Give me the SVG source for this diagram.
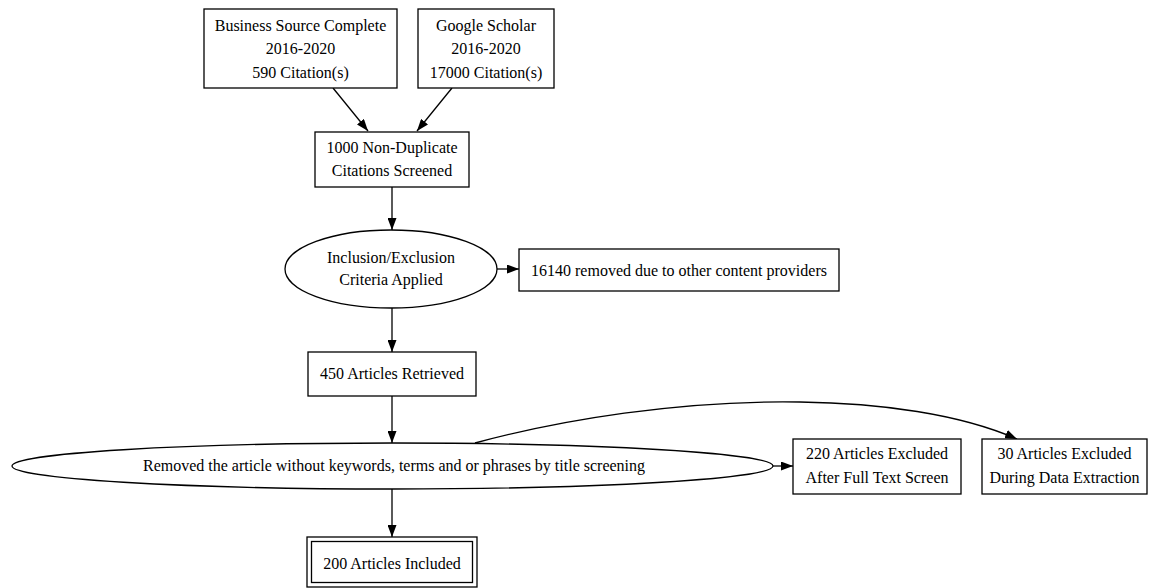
<svg xmlns="http://www.w3.org/2000/svg" width="1152" height="588" viewBox="0 0 1152 588">
<style>
.n{fill:#fff;stroke:#000;stroke-width:1.3}
.t{font-family:"Liberation Serif","Times New Roman",serif;font-size:16px;fill:#000;text-anchor:middle}
.e{fill:none;stroke:#000;stroke-width:1.3}
</style>
<defs>
<marker id="ah" viewBox="0 0 12 9" refX="12" refY="4.5" markerWidth="12" markerHeight="9" markerUnits="userSpaceOnUse" orient="auto">
<path d="M0,0 L12,4.5 L0,9 z" fill="#000"/>
</marker>
</defs>
<rect width="1152" height="588" fill="#fff"/>
<g id="connectors">
<path class="e" d="M333,88 L368,131" marker-end="url(#ah)"/>
<path class="e" d="M452,88 L417,131" marker-end="url(#ah)"/>
<path class="e" d="M392,187 L392,230" marker-end="url(#ah)"/>
<path class="e" d="M497,269 L519,269" marker-end="url(#ah)"/>
<path class="e" d="M392,308 L392,352" marker-end="url(#ah)"/>
<path class="e" d="M392,396 L392,443" marker-end="url(#ah)"/>
<path class="e" d="M773,466 L793,466" marker-end="url(#ah)"/>
<path class="e" d="M392,488 L392,537" marker-end="url(#ah)"/>
<path class="e" d="M475,443 C560,420 680,400 800,402 C880,403 960,414 1017,439" marker-end="url(#ah)"/>
</g>
<g id="bsc">
<rect class="n" x="204" y="9" width="193" height="79"/>
<text class="t" x="300.5" y="30.5">Business Source Complete</text>
<text class="t" x="300.5" y="54">2016-2020</text>
<text class="t" x="300.5" y="77.5">590 Citation(s)</text>
</g>
<g id="gs">
<rect class="n" x="418" y="9" width="136" height="79"/>
<text class="t" x="486" y="30.5">Google Scholar</text>
<text class="t" x="486" y="54">2016-2020</text>
<text class="t" x="486" y="77.5">17000 Citation(s)</text>
</g>
<g id="nondup">
<rect class="n" x="315" y="132" width="154" height="55"/>
<text class="t" x="392" y="152.5">1000 Non-Duplicate</text>
<text class="t" x="392" y="175.5">Citations Screened</text>
</g>
<g id="criteria">
<ellipse class="n" cx="391" cy="269" rx="106" ry="39"/>
<text class="t" x="391" y="262.5">Inclusion/Exclusion</text>
<text class="t" x="391" y="285">Criteria Applied</text>
</g>
<g id="removed16140">
<rect class="n" x="519" y="249" width="320" height="42"/>
<text class="t" x="679" y="275.5">16140 removed due to other content providers</text>
</g>
<g id="retrieved">
<rect class="n" x="308" y="352" width="168" height="44"/>
<text class="t" x="392" y="378.5">450 Articles Retrieved</text>
</g>
<g id="titlescreen">
<ellipse class="n" cx="392.5" cy="466" rx="380.5" ry="23"/>
<text class="t" x="394" y="471">Removed the article without keywords, terms and or phrases by title screening</text>
</g>
<g id="excl220">
<rect class="n" x="793" y="439" width="168" height="55"/>
<text class="t" x="877" y="458.5">220 Articles Excluded</text>
<text class="t" x="877" y="482.5">After Full Text Screen</text>
</g>
<g id="excl30">
<rect class="n" x="982" y="439" width="165" height="55"/>
<text class="t" x="1064.5" y="458.5">30 Articles Excluded</text>
<text class="t" x="1064.5" y="482.5">During Data Extraction</text>
</g>
<g id="included">
<rect class="n" x="307" y="537" width="170" height="50"/>
<rect class="n" x="311.5" y="541.5" width="161" height="41"/>
<text class="t" x="392" y="568.5">200 Articles Included</text>
</g>
</svg>
